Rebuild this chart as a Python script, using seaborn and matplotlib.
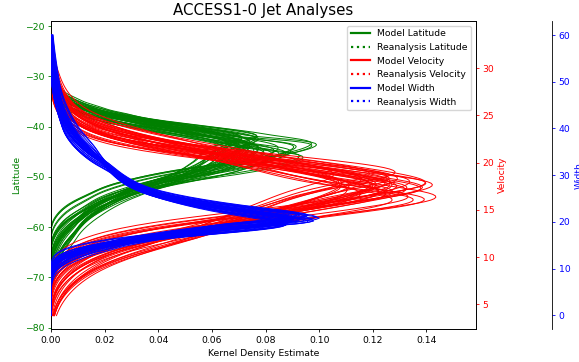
import numpy as np
import matplotlib
matplotlib.use("Agg")
import matplotlib.pyplot as plt
from matplotlib.lines import Line2D
import seaborn as sns

# ---------------- data ----------------
# Typical per-member density profile (offset from the member's mode, relative density)
lat_offsets = [13.5, 12.0, 10.5, 9.0, 7.5, 6.0, 4.5, 3.0, 1.5, 0.0, -1.5, -3.0, -4.5,
               -6.0, -7.5, -9.0, -10.5, -12.0, -13.5, -15.0, -16.5, -18.0, -19.5, -21.0, -22.5]
lat_profile = [0.0003, 0.001, 0.003, 0.005, 0.012, 0.022, 0.037, 0.055, 0.075, 0.085, 0.083,
               0.079, 0.071, 0.061, 0.046, 0.035, 0.027, 0.020, 0.015, 0.012, 0.008, 0.005,
               0.003, 0.0015, 0.0005]

vel_offsets = [12, 11, 10, 9, 8, 7, 6, 5, 4, 3, 2, 1, 0, -1, -2, -3, -4, -5, -6, -7, -8, -9, -10, -11]
vel_profile = [0.0003, 0.001, 0.002, 0.004, 0.006, 0.010, 0.016, 0.030, 0.050, 0.074, 0.098,
               0.120, 0.135, 0.128, 0.110, 0.090, 0.074, 0.050, 0.030, 0.018, 0.010, 0.005,
               0.002, 0.0005]

wid_offsets = [-10.5, -9.0, -7.5, -6.0, -4.5, -3.0, -1.5, 0.0, 1.5, 3.0, 4.5, 6.0, 7.5, 9.0,
               10.5, 12.0, 13.5, 15.0, 16.5, 18.0, 19.5, 21.0, 22.5, 24.0, 25.5, 27.0, 28.5,
               30.0, 31.5, 33.0, 34.5, 36.0, 37.5, 39.0, 40.5, 42.0]
wid_profile = [0.0005, 0.002, 0.007, 0.016, 0.030, 0.048, 0.075, 0.100, 0.080, 0.064, 0.052,
               0.042, 0.034, 0.029, 0.026, 0.023, 0.021, 0.019, 0.016, 0.013, 0.011, 0.009,
               0.0075, 0.006, 0.005, 0.004, 0.0035, 0.003, 0.0025, 0.002, 0.0016, 0.0012,
               0.0009, 0.0006, 0.0004, 0.0002]

# Ensemble members: mode, upper-side spread and lower-side spread of each model run
lat_centers = [-43.2, -44.1, -42.8, -43.6, -44.5, -43.0, -42.5, -43.9, -44.8, -43.3,
               -42.9, -44.2, -43.7, -42.6, -45.0, -43.4, -44.0, -42.7, -43.8, -44.4,
               -43.1, -42.4, -44.6, -43.5, -43.0, -44.3, -42.9, -43.6, -44.9, -43.2,
               -42.8, -44.1, -43.7, -42.5, -44.7, -43.3, -43.9, -42.6, -44.2, -43.4]
lat_up = [0.95, 0.88, 1.05, 0.92, 1.10, 0.84, 0.98, 1.02, 0.90, 1.12,
          0.86, 0.96, 1.07, 0.82, 0.99, 0.93, 1.14, 0.87, 1.01, 0.91,
          1.04, 0.85, 0.97, 1.09, 0.89, 0.94, 1.00, 0.83, 1.06, 0.92,
          0.88, 1.11, 0.95, 0.81, 1.03, 0.90, 0.98, 1.08, 0.86, 0.96]
lat_lo = [0.85, 1.10, 0.78, 1.22, 0.95, 1.05, 0.72, 1.15, 0.88, 1.00,
          1.28, 0.82, 0.98, 1.12, 0.76, 1.18, 0.90, 1.03, 0.80, 1.25,
          0.93, 0.74, 1.08, 0.86, 1.20, 0.97, 0.79, 1.14, 0.89, 1.02,
          1.26, 0.84, 0.94, 1.16, 0.77, 1.06, 0.91, 0.73, 1.10, 0.99]

vel_centers = [17.5, 17.9, 17.2, 18.1, 17.6, 16.9, 17.8, 18.3, 17.4, 17.0,
               17.7, 18.0, 17.3, 16.8, 18.4, 17.6, 17.1, 17.9, 18.2, 17.5,
               16.9, 17.8, 17.4, 18.1, 17.2, 17.7, 18.5, 17.0, 17.6, 17.3,
               18.0, 17.9, 16.8, 17.5, 18.2, 17.1, 17.8, 17.4, 18.3, 17.6]
vel_up = [0.95, 1.15, 0.82, 1.05, 0.88, 1.25, 0.92, 1.10, 0.78, 1.00,
          1.20, 0.85, 0.97, 1.08, 0.80, 1.18, 0.90, 1.03, 0.86, 1.28,
          0.94, 0.83, 1.12, 0.99, 1.22, 0.87, 1.06, 0.81, 1.14, 0.93,
          1.01, 0.79, 1.16, 0.89, 1.24, 0.96, 0.84, 1.09, 0.91, 1.04]
vel_lo = [1.07, 0.84, 1.24, 0.89, 1.34, 0.80, 1.14, 0.95, 0.92, 1.27,
          0.87, 1.03, 1.38, 0.80, 1.19, 0.92, 1.11, 0.82, 1.30, 0.97,
          0.80, 1.16, 0.91, 1.40, 0.82, 1.05, 0.80, 1.22, 0.93, 1.08,
          0.82, 1.32, 0.88, 1.00, 0.82, 1.26, 0.96, 1.09, 0.84, 1.18]

wid_centers = [20.1, 20.5, 19.8, 20.3, 19.6, 20.8, 20.0, 19.5, 20.6, 20.2,
               19.9, 20.4, 19.7, 21.0, 20.1, 19.4, 20.7, 20.3, 19.8, 20.5,
               20.0, 19.6, 20.9, 20.2, 19.9, 20.4, 19.5, 20.6, 20.1, 19.7,
               20.8, 20.3, 19.9, 20.0, 19.6, 20.5, 20.2, 19.8, 20.7, 20.1]
wid_up = [0.80, 0.74, 0.95, 0.86, 0.72, 1.02, 0.78, 0.90, 0.73, 0.98,
          0.84, 0.71, 0.92, 0.77, 0.88, 0.73, 1.05, 0.82, 0.96, 0.75,
          0.85, 1.00, 0.79, 0.91, 0.72, 0.87, 0.94, 0.80, 0.70, 0.97,
          0.74, 0.89, 0.81, 0.93, 0.72, 0.83, 1.03, 0.76, 0.90, 0.82]
wid_lo = [0.95, 1.15, 0.80, 0.90, 1.10, 0.75, 1.00, 0.85, 1.20, 0.78,
          0.92, 1.12, 0.82, 1.05, 0.88, 1.18, 0.76, 0.97, 0.84, 1.08,
          0.93, 0.79, 1.02, 0.87, 1.16, 0.91, 0.81, 1.06, 1.14, 0.77,
          1.09, 0.86, 0.98, 0.83, 1.12, 0.94, 0.78, 1.03, 0.89, 0.96]

legend_labels = ["Model Latitude", "Reanalysis Latitude", "Model Velocity",
                 "Reanalysis Velocity", "Model Width", "Reanalysis Width"]
lat_ticks = [-80, -70, -60, -50, -40, -30, -20]
vel_ticks = [5, 10, 15, 20, 25, 30]
wid_ticks = [0, 10, 20, 30, 40, 50, 60]
x_ticks = [0.00, 0.02, 0.04, 0.06, 0.08, 0.10, 0.12, 0.14]

# ---------------- drawing ----------------
FS = 6.7
plt.rcParams.update({
    "font.size": FS,
    "axes.linewidth": 0.6,
    "xtick.major.size": 2.4, "ytick.major.size": 2.4,
    "xtick.major.width": 0.6, "ytick.major.width": 0.6,
    "xtick.major.pad": 2.4, "ytick.major.pad": 2.4,
    "axes.labelpad": 2.7,
})

fig = plt.figure(figsize=(5.79, 3.62), dpi=100)
ax = fig.add_axes([51 / 579, 1 - 329.3 / 362, (476 - 51) / 579, (329.3 - 21) / 362])
ax2 = ax.twinx()
ax3 = ax.twinx()
ax3.spines["right"].set_position(("axes", 1.179))
ax3.set_frame_on(True)
ax3.patch.set_visible(False)
for sp in ax3.spines.values():
    sp.set_visible(False)
ax3.spines["right"].set_visible(True)

LW = 0.7


def member_values(center, up, lo, offsets):
    off = np.asarray(offsets, dtype=float)
    return center + np.where(off > 0, up, lo) * off


for c, su, sl in zip(lat_centers, lat_up, lat_lo):
    sns.kdeplot(y=member_values(c, su, sl, lat_offsets), weights=lat_profile,
                bw_method=0.17, cut=80, clip=(-77.5, -21.8), color="green", lw=LW, ax=ax)
for c, su, sl in zip(vel_centers, vel_up, vel_lo):
    sns.kdeplot(y=member_values(c, su, sl, vel_offsets), weights=vel_profile,
                bw_method=0.25, cut=80, clip=(3.8, 33.5), color="red", lw=LW, ax=ax2)
for c, su, sl in zip(wid_centers, wid_up, wid_lo):
    sns.kdeplot(y=member_values(c, su, sl, wid_offsets), weights=wid_profile,
                bw_method=0.14, cut=80, clip=(0.0, 60.0), color="blue", lw=LW, ax=ax3)

ax.set_xlim(0, 0.1585)
ax.set_xticks(x_ticks)
ax.set_ylim(-80.3, -19.0)
ax2.set_ylim(2.35, 35.0)
ax3.set_ylim(-3.0, 63.0)
ax.set_yticks(lat_ticks)
ax2.set_yticks(vel_ticks)
ax3.set_yticks(wid_ticks)

ax.set_xlabel("Kernel Density Estimate")
ax.set_ylabel("Latitude", color="green")
ax2.set_ylabel("Velocity", color="red")
ax3.set_ylabel("Width", color="blue")
ax.tick_params(axis="y", colors="green")
ax2.tick_params(axis="y", colors="red")
ax3.tick_params(axis="y", colors="blue")

ax.set_title("ACCESS1-0 Jet Analyses", fontsize=10.8, pad=4)

handles = []
for col in ["green", "red", "blue"]:
    handles.append(Line2D([], [], color=col, lw=1.6, ls="-"))
    handles.append(Line2D([], [], color=col, lw=1.6, ls=":"))
ax3.legend(handles, legend_labels, loc="upper right", fontsize=FS)

fig.savefig("out.png", dpi=100)
